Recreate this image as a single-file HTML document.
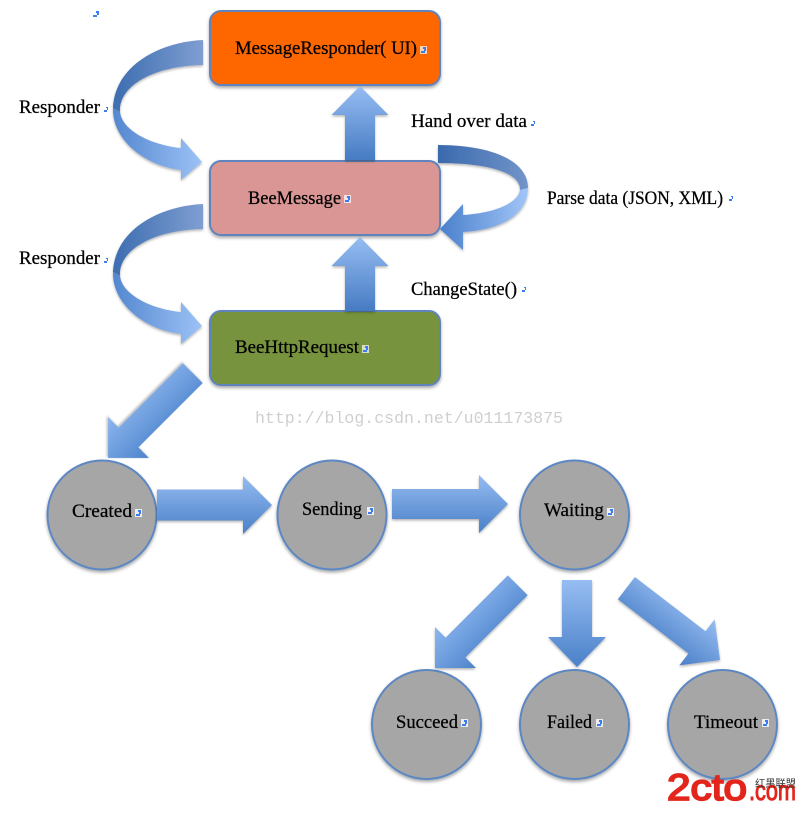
<!DOCTYPE html>
<html>
<head>
<meta charset="utf-8">
<style>
  html,body{margin:0;padding:0;background:#fff;}
  svg{display:block;}
  .t{font-family:"Liberation Serif","DejaVu Serif",serif;font-size:18.5px;fill:#000;stroke:#000;stroke-width:0.25px;}
  .wm{font-family:"Liberation Mono","Noto Sans CJK SC",monospace;font-size:16.6px;fill:#cfcfcf;}
</style>
</head>
<body>
<svg width="802" height="814" viewBox="0 0 802 814" xmlns="http://www.w3.org/2000/svg">
  <defs>
    <filter id="sh" x="-20%" y="-20%" width="140%" height="150%">
      <feDropShadow dx="0" dy="2" stdDeviation="1.5" flood-color="#000" flood-opacity="0.35"/>
    </filter>
    <filter id="sha" x="-20%" y="-20%" width="140%" height="150%">
      <feDropShadow dx="0" dy="1.5" stdDeviation="1.2" flood-color="#000" flood-opacity="0.3"/>
    </filter>
    <linearGradient id="gH" x1="0" y1="0" x2="0" y2="1">
      <stop offset="0" stop-color="#95bcf1"/>
      <stop offset="1" stop-color="#4a7fc7"/>
    </linearGradient>
    <linearGradient id="gUp" x1="0" y1="0" x2="1" y2="0">
      <stop offset="0" stop-color="#467bc3"/>
      <stop offset="1" stop-color="#96bdf2"/>
    </linearGradient>
    <linearGradient id="gDown" x1="0" y1="0" x2="1" y2="0">
      <stop offset="0" stop-color="#96bdf2"/>
      <stop offset="1" stop-color="#4a80c9"/>
    </linearGradient>
    <linearGradient id="gDiag" x1="0" y1="0" x2="0" y2="1">
      <stop offset="0" stop-color="#4d83cb"/>
      <stop offset="1" stop-color="#8db7ef"/>
    </linearGradient>
    <linearGradient id="gBackL" x1="0" y1="0" x2="1" y2="0">
      <stop offset="0" stop-color="#3c6db0"/>
      <stop offset="1" stop-color="#7f9ed2"/>
    </linearGradient>
    <linearGradient id="gFrontL" x1="0" y1="0" x2="1" y2="0">
      <stop offset="0" stop-color="#5487cf"/>
      <stop offset="1" stop-color="#9cc2f6"/>
    </linearGradient>
    <linearGradient id="gBackR" x1="0" y1="0" x2="1" y2="0">
      <stop offset="0" stop-color="#3a6aad"/>
      <stop offset="1" stop-color="#7294c9"/>
    </linearGradient>
    <linearGradient id="gFrontR" x1="0" y1="0" x2="1" y2="0">
      <stop offset="0" stop-color="#4a80cc"/>
      <stop offset="1" stop-color="#a2c5f7"/>
    </linearGradient>
  </defs>

  <!-- Boxes -->
  <rect x="210" y="11" width="230" height="74" rx="11" fill="#fe6600" stroke="#5f84bd" stroke-width="2" filter="url(#sh)"/>
  <rect x="210" y="161" width="230" height="74" rx="11" fill="#d99694" stroke="#5f84bd" stroke-width="2" filter="url(#sh)"/>
  <rect x="210" y="311" width="230" height="74" rx="11" fill="#77933c" stroke="#5f84bd" stroke-width="2" filter="url(#sh)"/>

  <!-- Up arrows -->
  <g filter="url(#sha)">
    <polygon transform="translate(360,86) rotate(-90)" points="-74,-15 -29,-15 -29,-28.5 0,0 -29,28.5 -29,15 -74,15" fill="url(#gUp)"/>
    <polygon transform="translate(360,237) rotate(-90)" points="-74,-15 -29,-15 -29,-28.5 0,0 -29,28.5 -29,15 -74,15" fill="url(#gUp)"/>
  </g>

  <!-- Left curved arrow 1 -->
  <g filter="url(#sha)">
    <path d="M203,40 C160,42 115,65 113,108 L120,112 C118,88 150,66 203,65 Z" fill="url(#gBackL)"/>
    <path d="M113,108 C112,140 145,166 181,170 L181,180 L202,162 L181,138 L181,148 C150,145 122,130 120,112 Z" fill="url(#gFrontL)"/>
  </g>
  <!-- Left curved arrow 2 -->
  <g filter="url(#sha)" transform="translate(0,164)">
    <path d="M203,40 C160,42 115,65 113,108 L120,112 C118,88 150,66 203,65 Z" fill="url(#gBackL)"/>
    <path d="M113,108 C112,140 145,166 181,170 L181,180 L202,162 L181,138 L181,148 C150,145 122,130 120,112 Z" fill="url(#gFrontL)"/>
  </g>

  <!-- Right loop arrow -->
  <g filter="url(#sha)">
    <path d="M438,145 C490,145 528,160 528,188 L520,190 C521,175 495,163 438,163 Z" fill="url(#gBackR)"/>
    <path d="M528,188 C528,215 500,230 463,232 L463,250 L440,229 L463,204 L463,215 C495,213 518,203 520,190 Z" fill="url(#gFrontR)"/>
  </g>

  <!-- Diagonal from BeeHttpRequest to Created -->
  <polygon filter="url(#sha)" transform="translate(108,458) rotate(135)" points="-120,-14 -29,-14 -29,-29 0,0 -29,29 -29,14 -120,14" fill="url(#gDiag)"/>

  <!-- Circles -->
  <g fill="#a6a6a6" stroke="#5b87c3" stroke-width="2" filter="url(#sh)">
    <circle cx="102" cy="515" r="54.5"/>
    <circle cx="332" cy="515" r="54.5"/>
    <circle cx="574.5" cy="515" r="54.5"/>
    <circle cx="426.5" cy="724.5" r="54.5"/>
    <circle cx="574.5" cy="724.5" r="54.5"/>
    <circle cx="722.5" cy="724.5" r="54.5"/>
  </g>

  <!-- Horizontal arrows -->
  <g filter="url(#sha)">
    <polygon transform="translate(272,505)" points="-115,-15.5 -29,-15.5 -29,-29 0,0 -29,29 -29,15.5 -115,15.5" fill="url(#gH)"/>
    <polygon transform="translate(508,504)" points="-116,-15 -29,-15 -29,-29 0,0 -29,29 -29,15 -116,15" fill="url(#gH)"/>
  </g>

  <!-- Arrows from Waiting -->
  <g filter="url(#sha)">
    <polygon transform="translate(435,668) rotate(135)" points="-117,-14 -29,-14 -29,-29 0,0 -29,29 -29,14 -117,14" fill="url(#gDiag)"/>
    <polygon transform="translate(577,667) rotate(90)" points="-87,-15 -30,-15 -30,-29 0,0 -30,29 -30,15 -87,15" fill="url(#gDown)"/>
    <polygon transform="translate(720,660) rotate(37.5)" points="-118,-14 -29,-14 -29,-29 0,0 -29,29 -29,14 -118,14" fill="url(#gH)"/>
  </g>

  <!-- Labels -->
  <text class="t" x="235" y="54" textLength="182" lengthAdjust="spacingAndGlyphs">MessageResponder( UI)</text>
  <text class="t" x="19" y="113" textLength="81" lengthAdjust="spacingAndGlyphs">Responder</text>
  <text class="t" x="411" y="127" textLength="116" lengthAdjust="spacingAndGlyphs">Hand over data</text>
  <text class="t" x="248" y="204" textLength="93" lengthAdjust="spacingAndGlyphs">BeeMessage</text>
  <text class="t" x="547" y="204" textLength="176" lengthAdjust="spacingAndGlyphs">Parse data (JSON, XML)</text>
  <text class="t" x="19" y="264" textLength="81" lengthAdjust="spacingAndGlyphs">Responder</text>
  <text class="t" x="411" y="295" textLength="106" lengthAdjust="spacingAndGlyphs">ChangeState()</text>
  <text class="t" x="235" y="353" textLength="124" lengthAdjust="spacingAndGlyphs">BeeHttpRequest</text>

  <text class="wm" x="255" y="423" textLength="308" lengthAdjust="spacingAndGlyphs">http://blog.csdn.net/u011173875</text>

  <text class="t" x="72" y="517" textLength="60" lengthAdjust="spacingAndGlyphs">Created</text>
  <text class="t" x="302" y="515" textLength="60" lengthAdjust="spacingAndGlyphs">Sending</text>
  <text class="t" x="544" y="516" textLength="60" lengthAdjust="spacingAndGlyphs">Waiting</text>
  <text class="t" x="396" y="728" textLength="62" lengthAdjust="spacingAndGlyphs">Succeed</text>
  <text class="t" x="547" y="728" textLength="45" lengthAdjust="spacingAndGlyphs">Failed</text>
  <text class="t" x="694" y="728" textLength="64" lengthAdjust="spacingAndGlyphs">Timeout</text>

  <!-- small blue marks -->
  <g fill="#3b7cf0">
    <path transform="translate(93,11)" d="M3,0 H6 V4 H4 V2 H3 Z M0,4 H4 V6 H0 Z"/>
    <path transform="translate(104,107)" d="M2,0 H4 V3 H3 V1 H2 Z M0,3 H3 V5 H0 Z"/>
    <path transform="translate(104,258)" d="M2,0 H4 V3 H3 V1 H2 Z M0,3 H3 V5 H0 Z"/>
    <path transform="translate(531,121)" d="M2,0 H4 V3 H3 V1 H2 Z M0,3 H3 V5 H0 Z"/>
    <path transform="translate(729,196)" d="M2,0 H4 V3 H3 V1 H2 Z M0,3 H3 V5 H0 Z"/>
    <path transform="translate(522,287)" d="M2,0 H4 V3 H3 V1 H2 Z M0,3 H3 V5 H0 Z"/>
  </g>
  <g>
    <rect x="420" y="46" width="7" height="8" fill="#fff" opacity="0.7"/>
    <path transform="translate(421,47)" d="M2,0 H5 V4 H3 V2 H2 Z M0,4 H4 V6 H0 Z" fill="#3b7cf0"/>
    <rect x="344" y="195" width="7" height="8" fill="#fff" opacity="0.7"/>
    <path transform="translate(345,196)" d="M2,0 H5 V4 H3 V2 H2 Z M0,4 H4 V6 H0 Z" fill="#3b7cf0"/>
    <rect x="362" y="345" width="7" height="8" fill="#fff" opacity="0.7"/>
    <path transform="translate(363,346)" d="M2,0 H5 V4 H3 V2 H2 Z M0,4 H4 V6 H0 Z" fill="#3b7cf0"/>
    <rect x="135" y="509" width="7" height="8" fill="#fff" opacity="0.8"/>
    <path transform="translate(136,510)" d="M2,0 H5 V4 H3 V2 H2 Z M0,4 H4 V6 H0 Z" fill="#3b7cf0"/>
    <rect x="367" y="507" width="7" height="8" fill="#fff" opacity="0.8"/>
    <path transform="translate(368,508)" d="M2,0 H5 V4 H3 V2 H2 Z M0,4 H4 V6 H0 Z" fill="#3b7cf0"/>
    <rect x="607" y="508" width="7" height="8" fill="#fff" opacity="0.8"/>
    <path transform="translate(608,509)" d="M2,0 H5 V4 H3 V2 H2 Z M0,4 H4 V6 H0 Z" fill="#3b7cf0"/>
    <rect x="461" y="719" width="7" height="8" fill="#fff" opacity="0.8"/>
    <path transform="translate(462,720)" d="M2,0 H5 V4 H3 V2 H2 Z M0,4 H4 V6 H0 Z" fill="#3b7cf0"/>
    <rect x="596" y="719" width="7" height="8" fill="#fff" opacity="0.8"/>
    <path transform="translate(597,720)" d="M2,0 H5 V4 H3 V2 H2 Z M0,4 H4 V6 H0 Z" fill="#3b7cf0"/>
    <rect x="762" y="719" width="7" height="8" fill="#fff" opacity="0.8"/>
    <path transform="translate(763,720)" d="M2,0 H5 V4 H3 V2 H2 Z M0,4 H4 V6 H0 Z" fill="#3b7cf0"/>
  </g>

  <!-- 2cto logo -->
  <text x="667" y="800" font-family="'Liberation Sans',sans-serif" font-size="37" fill="#e3261c" stroke="#e3261c" stroke-width="1.8" textLength="80" lengthAdjust="spacingAndGlyphs">2cto</text>
  <text x="749" y="800" font-family="'Liberation Sans',sans-serif" font-size="28" fill="#e3261c" stroke="#e3261c" stroke-width="1" textLength="47" lengthAdjust="spacingAndGlyphs">.com</text>
  <text x="755" y="787" font-family="'Liberation Sans','Noto Sans CJK SC',sans-serif" font-size="10" fill="#333" textLength="41" lengthAdjust="spacingAndGlyphs">红黑联盟</text>
</svg>
</body>
</html>
